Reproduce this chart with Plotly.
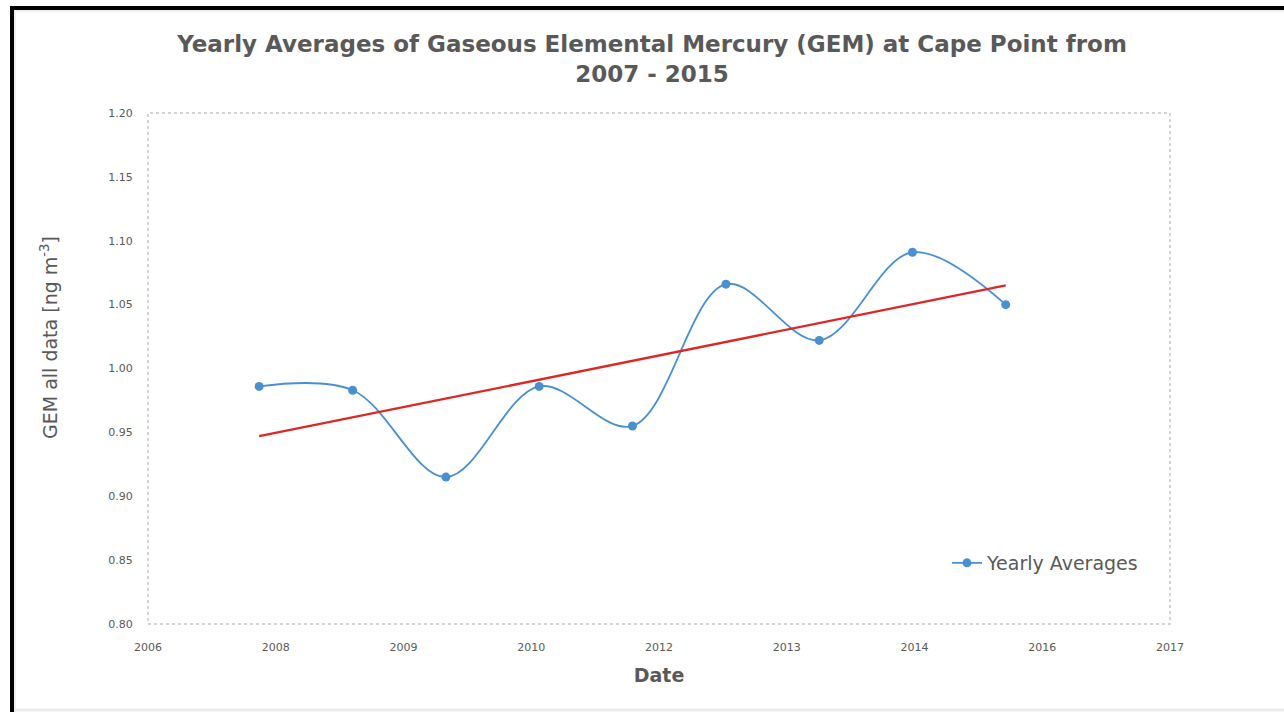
import pandas as pd
import plotly.graph_objects as go

# ---- data ----
dates = ["2007-11-22", "2008-11-22", "2009-11-22", "2010-11-22", "2011-11-22",
         "2012-11-22", "2013-11-22", "2014-11-22", "2015-11-22"]
gem_yearly = [0.986, 0.983, 0.915, 0.986, 0.955, 1.066, 1.022, 1.091, 1.050]

trend_dates = [dates[0], dates[-1]]
trend_values = [0.947, 1.065]

series_name = "Yearly Averages"
title_text = "Yearly Averages of Gaseous Elemental Mercury (GEM) at Cape Point from<br>2007 - 2015"
y_title = "GEM all data [ng m<sup>-3</sup>]"
x_title = "Date"

# ---- layout helpers: reference pixel geometry ----
W, H = 1284, 712
PL, PR, PT, PB = 148, 1170, 113, 624   # plot area in reference pixels
def px(x):
    return (x - PL) / (PR - PL)
def py(y):
    return (PB - y) / (PB - PT)

tick0 = pd.Timestamp("2006-09-13")
dtick_days = 500
x_end = tick0 + pd.Timedelta(days=dtick_days * 8)

GRAY = "#595959"
FONT = "DejaVu Sans"

fig = go.Figure()
fig.add_trace(go.Scatter(
    x=dates, y=gem_yearly, name=series_name, mode="lines+markers",
    line=dict(color="#4a8fd2", width=1.8, shape="spline", smoothing=1.0),
    marker=dict(color="#4a8fd2", size=9, symbol="circle"),
))
fig.add_trace(go.Scatter(
    x=trend_dates, y=trend_values, mode="lines", showlegend=False,
    line=dict(color="#dd2626", width=2.3), hoverinfo="skip",
))

shapes = [
    # plot area border (dotted light grey)
    dict(type="rect", xref="paper", yref="paper", x0=0, y0=0, x1=1, y1=1,
         line=dict(color="#d4d4d4", width=2, dash="dot"), layer="below"),
    # black frame top and left
    dict(type="line", xref="paper", yref="paper", x0=px(10), x1=px(1300), y0=py(8), y1=py(8),
         line=dict(color="black", width=4)),
    dict(type="line", xref="paper", yref="paper", x0=px(12), x1=px(12), y0=py(6), y1=py(720),
         line=dict(color="black", width=4)),
    # faint grey strips inside the frame and at the bottom
    dict(type="line", xref="paper", yref="paper", x0=px(14), x1=px(1300), y0=py(11), y1=py(11),
         line=dict(color="#efefef", width=2)),
    dict(type="line", xref="paper", yref="paper", x0=px(15), x1=px(15), y0=py(10), y1=py(720),
         line=dict(color="#efefef", width=2)),
    dict(type="line", xref="paper", yref="paper", x0=px(14), x1=px(1300), y0=py(710), y1=py(710),
         line=dict(color="#ebebeb", width=3)),
]

fig.update_layout(
    width=W, height=H,
    margin=dict(l=PL, r=W - PR, t=PT, b=H - PB),
    paper_bgcolor="white", plot_bgcolor="white",
    font=dict(family=FONT, color=GRAY),
    title=dict(text=title_text, x=652 / W, xanchor="center",
               y=1 - 52 / H, yanchor="top",
               xref="container", yref="container",
               font=dict(family=FONT, size=23, color=GRAY, weight="bold")),
    xaxis=dict(type="date", range=[tick0, x_end], tick0=tick0, dtick=dtick_days * 86400000,
               tickformat="%Y", showgrid=False, zeroline=False, showline=False,
               ticks="outside", ticklen=13, tickcolor="rgba(0,0,0,0)",
               tickfont=dict(size=11, color=GRAY),
               title=dict(text="<b>" + x_title + "</b>", font=dict(size=19, color=GRAY), standoff=15)),
    yaxis=dict(range=[0.80, 1.20], dtick=0.05, tickformat=".2f", showgrid=False,
               zeroline=False, showline=False,
               ticks="outside", ticklen=12, tickcolor="rgba(0,0,0,0)",
               tickfont=dict(size=11, color=GRAY)),
    legend=dict(x=px(947), y=py(563), xanchor="left", yanchor="middle",
                bgcolor="rgba(0,0,0,0)", font=dict(size=19, color=GRAY)),
    shapes=shapes,
    annotations=[dict(text=y_title, textangle=-90, xref="paper", yref="paper",
                      x=px(49), y=py(338), xanchor="center", yanchor="middle",
                      showarrow=False, font=dict(size=19, color=GRAY))],
)

fig.write_html("out.html", config={"displayModeBar": False},
               post_script="document.body.style.margin='0';")
